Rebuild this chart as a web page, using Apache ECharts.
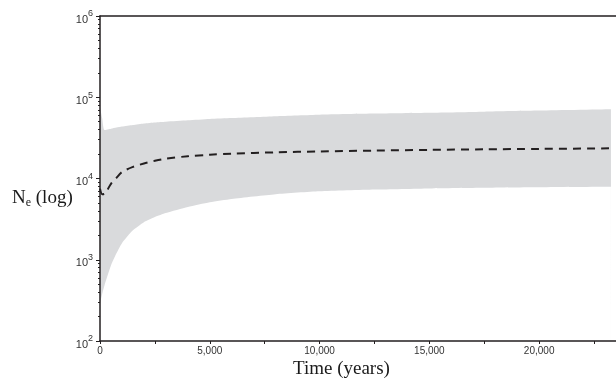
<!DOCTYPE html>
<html>
<head>
<meta charset="utf-8">
<script src="https://cdn.jsdelivr.net/npm/echarts@6/dist/echarts.min.js"></script>
<style>
  html, body { margin: 0; padding: 0; background: #fff; }
  #chart { width: 616px; height: 382px; }
</style>
</head>
<body>
<div id="chart"></div>
<script>
(function () {
  "use strict";

  // time (years) and Ne values
  var TIME   = [0, 100, 200, 500, 750, 1000, 1500, 2000, 2500, 3000, 4000, 5000, 6000, 8000, 10000, 12500, 15000, 17500, 20000, 23270];
  var UPPER  = [76000, 55000, 39500, 41000, 42500, 43500, 45500, 47500, 49000, 50000, 52000, 54000, 55500, 58500, 61000, 63000, 64500, 66500, 68500, 71000];
  var LOWER  = [290, 380, 480, 850, 1200, 1600, 2300, 2900, 3350, 3750, 4450, 5100, 5600, 6400, 6950, 7300, 7550, 7700, 7800, 7900];
  var MEDIAN = [7500, 6400, 6450, 8600, 10200, 12000, 13900, 15300, 16500, 17500, 18800, 19600, 20200, 21000, 21550, 22050, 22500, 22850, 23150, 23500];

  var X_TICKS = [0, 2500, 5000, 7500, 10000, 12500, 15000, 17500, 20000, 22500];
  var X_LABELS = [0, 5000, 10000, 15000, 20000];
  var Y_DECADES = [2, 3, 4, 5];
  var Y_MINOR_MULT = [2, 3, 4, 5, 6, 7, 8, 9];

  var INK = "#231f20";
  var LABEL = "#333333";
  var BAND = "#d9dadc";
  var SANS = "Liberation Sans, Arial, sans-serif";
  var SERIF = "Liberation Serif, Times New Roman, serif";

  function pairs(vals) {
    return TIME.map(function (t, i) { return [t, vals[i]]; });
  }

  var minorLogTicks = [];
  Y_DECADES.forEach(function (d) {
    Y_MINOR_MULT.forEach(function (m) { minorLogTicks.push(d + Math.log10(m)); });
  });

  var chart = echarts.init(document.getElementById("chart"), null, { renderer: "canvas" });

  chart.setOption({
    animation: false,
    backgroundColor: "#fff",
    grid: { left: 100, right: 0, top: 16, bottom: 41 },
    xAxis: [{
      type: "value",
      min: 0,
      max: 23500,
      z: 10,
      axisLine: { show: true, lineStyle: { color: INK, width: 1.5 } },
      axisTick: { show: true, length: 3, lineStyle: { color: INK }, customValues: X_TICKS },
      axisLabel: {
        color: LABEL, fontFamily: SANS, fontSize: 10, margin: 5,
        customValues: X_LABELS,
        formatter: function (v) { return Number(v).toLocaleString("en-US"); }
      },
      splitLine: { show: false }
    }, {
      type: "value",
      position: "top",
      min: 0,
      max: 23500,
      z: 10,
      axisLine: { show: true, onZero: false, lineStyle: { color: INK, width: 1.5 } },
      axisTick: { show: false },
      axisLabel: { show: false },
      splitLine: { show: false }
    }],
    yAxis: [{
      type: "log",
      logBase: 10,
      min: 100,
      max: 1000000,
      z: 10,
      axisLine: { show: true, lineStyle: { color: INK, width: 1.5 } },
      axisTick: { show: true, length: 4, lineStyle: { color: INK } },
      axisLabel: {
        color: LABEL, fontFamily: SANS, margin: 7,
        formatter: function (v) {
          var e = Math.round(Math.log(v) / Math.LN10);
          return "{b|10}{e|" + e + "}";
        },
        rich: {
          b: { fontSize: 11, fontFamily: SANS, color: LABEL, padding: [7, 0, 0, 0] },
          e: { fontSize: 9, fontFamily: SANS, color: LABEL, padding: [0, 0, 4, 0] }
        }
      },
      splitLine: { show: false }
    }, {
      type: "value",
      position: "left",
      min: 2,
      max: 6,
      z: 10,
      axisLine: { show: false },
      axisTick: { show: true, length: 2, lineStyle: { color: INK }, customValues: minorLogTicks },
      axisLabel: { show: false },
      splitLine: { show: false }
    }],
    graphic: [{
      type: "text",
      left: 293,
      top: 360,
      style: { text: "Time (years)", font: "19px " + SERIF, fill: "#1a1a1a" }
    }, {
      type: "text",
      left: 12,
      top: 189,
      style: {
        text: "{n|N}{s|e}{n| (log)}",
        fill: "#1a1a1a",
        rich: {
          n: { fontSize: 19, fontFamily: SERIF, fill: "#1a1a1a" },
          s: { fontSize: 12, fontFamily: SERIF, fill: "#1a1a1a", padding: [9, 0, 0, 0] }
        }
      }
    }],
    series: [{
      // upper HPD bound, filled down to the axis
      name: "upper",
      type: "line",
      data: pairs(UPPER),
      symbol: "none",
      smooth: 0.2,
      lineStyle: { opacity: 0 },
      areaStyle: { color: BAND, opacity: 1, origin: "start" },
      silent: true,
      z: 1
    }, {
      // lower HPD bound, white fill masks below it
      name: "lower",
      type: "line",
      data: pairs(LOWER),
      symbol: "none",
      smooth: 0.2,
      lineStyle: { opacity: 0 },
      areaStyle: { color: "#ffffff", opacity: 1, origin: "start" },
      silent: true,
      z: 2
    }, {
      name: "median",
      type: "line",
      data: pairs(MEDIAN),
      symbol: "none",
      smooth: 0.3,
      z: 5,
      lineStyle: { color: INK, width: 2, type: [8, 6] }
    }]
  });
})();
</script>
</body>
</html>
